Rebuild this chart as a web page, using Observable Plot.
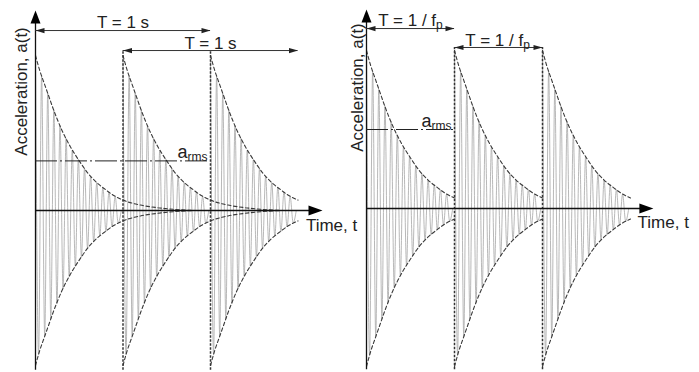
<!DOCTYPE html>
<html><head><meta charset="utf-8">
<script src="https://cdn.jsdelivr.net/npm/d3@7"></script>
<script src="https://cdn.jsdelivr.net/npm/@observablehq/plot@0.6"></script>
<style>
body{margin:0;background:#fff}
#wrap{position:relative;width:699px;height:372px;overflow:hidden;background:#fff}
#wrap svg{position:absolute;top:0}
</style>
</head><body><div id="wrap"></div>
<script>
// ---- data ----
const burstStarts = [0, 1, 2];                 // s, one burst per period T = 1 s
// half-cycle peaks of one burst (time after burst start, signed amplitude)
const peakT = [0, 0.035, 0.07, 0.105, 0.14, 0.175, 0.21, 0.245, 0.28, 0.315, 0.35, 0.385, 0.42, 0.455, 0.49, 0.525, 0.56, 0.595, 0.63, 0.665, 0.7, 0.735, 0.77, 0.805, 0.84, 0.875, 0.91, 0.945, 0.98];
const peakA = [1.0, -0.93, 0.87, -0.81, 0.755, -0.7, 0.65, -0.6, 0.55, -0.505, 0.465, -0.425, 0.39, -0.36, 0.33, -0.3, 0.27, -0.245, 0.22, -0.2, 0.18, -0.165, 0.15, -0.135, 0.12, -0.105, 0.09, -0.08, 0.0];
// decay envelope of one burst
const envT = [0, 0.05, 0.1, 0.15, 0.2, 0.3, 0.4, 0.5, 0.6, 0.7, 0.8, 0.9, 1.0];
const envA = [1.0, 0.9, 0.82, 0.74, 0.66, 0.52, 0.41, 0.32, 0.24, 0.18, 0.135, 0.095, 0.067];
// envelope continuation drawn in the left panel
const tailT = [1.2, 1.4, 1.6, 1.8];
const tailA = [0.035, 0.018, 0.007, 0.0];
// rms level of each panel
const armsLeft = 0.32;
const armsRight = 0.5;
// period arrows (start, end) in s
const leftArrowStart = [0, 1], leftArrowEnd = [2, 3];
const rightArrowStart = [0, 1], rightArrowEnd = [1, 2];
const leftPeriodLabel = "T = 1 s";
const rightPeriodLabel = "T = 1 / f_p";
const yLabel = "Acceleration, a(t)";
const xLabel = "Time, t";
const armsLabel = "a_rms";

// ---- helpers ----
const FONT = "'Liberation Sans', Arial, Helvetica, sans-serif";
const headRight = {draw(c){c.moveTo(0,0);c.lineTo(-9,-2.6);c.lineTo(-9,2.6);c.closePath();}};
const headLeft  = {draw(c){c.moveTo(0,0);c.lineTo(9,-2.6);c.lineTo(9,2.6);c.closePath();}};
const axisUp    = {draw(c){c.moveTo(0,0);c.lineTo(-5,13);c.lineTo(5,13);c.closePath();}};
const axisRight = {draw(c){c.moveTo(0,0);c.lineTo(-14,-5);c.lineTo(-14,5);c.closePath();}};

const wave = burstStarts.flatMap((s, i) => peakT.map((t, j) => ({t: s + t, a: peakA[j], burst: i})));

function envelopes(withTail) {
  const out = [];
  burstStarts.forEach((s, i) => {
    let T = envT.slice(), A = envA.slice();
    if (withTail && s + tailT[tailT.length - 1] <= 3) { T = T.concat(tailT); A = A.concat(tailA); }
    T.forEach((t, j) => {
      out.push({t: s + t, a: A[j], key: "u" + i});
      out.push({t: s + t, a: -A[j], key: "l" + i});
    });
  });
  return out;
}

function subscripts(svg) {
  svg.querySelectorAll("text").forEach(el => {
    const s = el.textContent;
    if (!s.includes("_")) return;
    const [main, sub] = s.split("_");
    el.textContent = "";
    const ns = "http://www.w3.org/2000/svg";
    const t1 = document.createElementNS(ns, "tspan"); t1.textContent = main; el.appendChild(t1);
    const t2 = document.createElementNS(ns, "tspan"); t2.textContent = sub;
    t2.setAttribute("font-size", "12"); t2.setAttribute("dy", "3"); el.appendChild(t2);
  });
}

function panel(cfg) {
  const marks = [
    Plot.line(wave, {x: "t", y: "a", z: "burst", stroke: "#ababab", strokeWidth: 0.85, curve: "monotone-x"}),
    Plot.line(envelopes(cfg.tail), {x: "t", y: "a", z: "key", stroke: "#3a3a3a", strokeWidth: 1.1, strokeDasharray: "3.5,2.5", curve: "monotone-x"}),
    Plot.ruleX(burstStarts.slice(1), {y1: cfg.yBottom, y2: cfg.arrowY[1], stroke: "#333", strokeWidth: 1.5, strokeDasharray: "2.5,1.5"}),
    // axes
    Plot.ruleY([0], {x1: 0, x2: cfg.xTip - 0.1, stroke: "#111", strokeWidth: 1.3}),
    Plot.ruleX([0], {y1: cfg.yBottom, y2: cfg.yTip - 0.05, stroke: "#111", strokeWidth: 1.3}),
    Plot.dot([{t: 0, a: cfg.yTip}], {x: "t", y: "a", symbol: axisUp, fill: "#000", stroke: "none"}),
    Plot.dot([{t: cfg.xTip, a: 0}], {x: "t", y: "a", symbol: axisRight, fill: "#000", stroke: "none"}),
    // rms level
    Plot.ruleY([cfg.arms], {x1: 0, x2: cfg.armsEnd, stroke: "#222", strokeWidth: 1, strokeDasharray: "22,3,2,3"}),
    Plot.text([armsLabel], {x: cfg.armsEnd, y: cfg.arms, text: d => d, textAnchor: "end", lineAnchor: "bottom", dx: -3, dy: -3, fontSize: 18, fill: "#222"}),
    // period arrows
    Plot.ruleY(cfg.arrowStart.map((s, i) => ({s, e: cfg.arrowEnd[i], y: cfg.arrowY[i]})), {x1: "s", x2: "e", y: "y", stroke: "#333", strokeWidth: 1}),
    Plot.dot(cfg.arrowStart.map((s, i) => ({t: s, y: cfg.arrowY[i]})), {x: "t", y: "y", symbol: headLeft, fill: "#222", stroke: "none"}),
    Plot.dot(cfg.arrowEnd.map((e, i) => ({t: e, y: cfg.arrowY[i]})), {x: "t", y: "y", symbol: headRight, fill: "#222", stroke: "none"}),
    Plot.text(cfg.labelPos, {x: "t", y: "a", text: () => cfg.periodLabel, fontSize: 17, fill: "#222"}),
    // axis titles
    Plot.text([yLabel], {x: cfg.yLabelPos[0], y: cfg.yLabelPos[1], text: d => d, rotate: -90, fontSize: 17, fill: "#222"}),
    Plot.text([xLabel], {x: cfg.xLabelPos[0], y: cfg.xLabelPos[1], text: d => d, textAnchor: "start", fontSize: 17, fill: "#222"})
  ];
  const svg = Plot.plot({
    width: cfg.width, height: 372,
    x: {domain: [0, 1], range: cfg.xRange, axis: null},
    y: {domain: [0, 1], range: cfg.yRange, axis: null},
    style: {background: "transparent", overflow: "visible", fontFamily: FONT},
    marks
  });
  subscripts(svg);
  svg.style.left = cfg.left + "px";
  return svg;
}

const left = panel({
  left: 0, width: 340, xRange: [35, 122.5], yRange: [210, 55], tail: true,
  yBottom: -1.03, yTip: 1.29, xTip: 3.28,
  arms: armsLeft, armsEnd: 2,
  arrowStart: leftArrowStart, arrowEnd: leftArrowEnd, arrowY: [1.161, 1.032],
  labelPos: [{t: 1.0, a: 1.21}, {t: 2.0, a: 1.08}], periodLabel: leftPeriodLabel,
  yLabelPos: [-0.16, 0.768], xLabelPos: [3.09, -0.1]
});
const right = panel({
  left: 340, width: 359, xRange: [26, 114], yRange: [208, 50], tail: false,
  yBottom: -1.02, yTip: 1.26, xTip: 3.26,
  arms: armsRight, armsEnd: 1,
  arrowStart: rightArrowStart, arrowEnd: rightArrowEnd, arrowY: [1.139, 1.019],
  labelPos: [{t: 0.5, a: 1.19}, {t: 1.49, a: 1.065}], periodLabel: rightPeriodLabel,
  yLabelPos: [-0.105, 0.766], xLabelPos: [3.08, -0.09]
});
const wrap = document.getElementById("wrap");
wrap.appendChild(right);
wrap.appendChild(left);
</script></body></html>
